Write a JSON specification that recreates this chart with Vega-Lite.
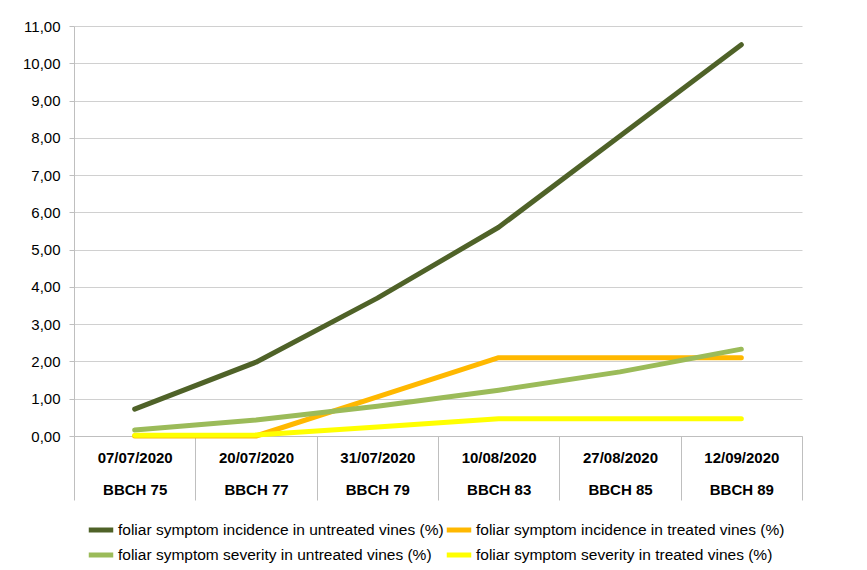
{
  "$schema": "https://vega.github.io/schema/vega-lite/v6.json",
  "autosize": {"type": "none"},
  "width": 728,
  "height": 410,
  "padding": {"left": 74, "top": 26, "right": 65, "bottom": 134},
  "background": "white",
  "data": {
    "values": [
      {"cat": "07/07/2020|BBCH 75", "series": "foliar symptom incidence in untreated vines (%)", "value": 0.72},
      {"cat": "20/07/2020|BBCH 77", "series": "foliar symptom incidence in untreated vines (%)", "value": 1.98},
      {"cat": "31/07/2020|BBCH 79", "series": "foliar symptom incidence in untreated vines (%)", "value": 3.70},
      {"cat": "10/08/2020|BBCH 83", "series": "foliar symptom incidence in untreated vines (%)", "value": 5.60},
      {"cat": "27/08/2020|BBCH 85", "series": "foliar symptom incidence in untreated vines (%)", "value": 8.05},
      {"cat": "12/09/2020|BBCH 89", "series": "foliar symptom incidence in untreated vines (%)", "value": 10.50},
      {"cat": "07/07/2020|BBCH 75", "series": "foliar symptom incidence in treated vines (%)", "value": 0.0},
      {"cat": "20/07/2020|BBCH 77", "series": "foliar symptom incidence in treated vines (%)", "value": 0.0},
      {"cat": "31/07/2020|BBCH 79", "series": "foliar symptom incidence in treated vines (%)", "value": 1.05},
      {"cat": "10/08/2020|BBCH 83", "series": "foliar symptom incidence in treated vines (%)", "value": 2.10},
      {"cat": "27/08/2020|BBCH 85", "series": "foliar symptom incidence in treated vines (%)", "value": 2.10},
      {"cat": "12/09/2020|BBCH 89", "series": "foliar symptom incidence in treated vines (%)", "value": 2.10},
      {"cat": "07/07/2020|BBCH 75", "series": "foliar symptom severity in untreated vines (%)", "value": 0.16},
      {"cat": "20/07/2020|BBCH 77", "series": "foliar symptom severity in untreated vines (%)", "value": 0.43},
      {"cat": "31/07/2020|BBCH 79", "series": "foliar symptom severity in untreated vines (%)", "value": 0.80},
      {"cat": "10/08/2020|BBCH 83", "series": "foliar symptom severity in untreated vines (%)", "value": 1.23},
      {"cat": "27/08/2020|BBCH 85", "series": "foliar symptom severity in untreated vines (%)", "value": 1.72},
      {"cat": "12/09/2020|BBCH 89", "series": "foliar symptom severity in untreated vines (%)", "value": 2.33},
      {"cat": "07/07/2020|BBCH 75", "series": "foliar symptom severity in treated vines (%)", "value": 0.02},
      {"cat": "20/07/2020|BBCH 77", "series": "foliar symptom severity in treated vines (%)", "value": 0.03},
      {"cat": "31/07/2020|BBCH 79", "series": "foliar symptom severity in treated vines (%)", "value": 0.24},
      {"cat": "10/08/2020|BBCH 83", "series": "foliar symptom severity in treated vines (%)", "value": 0.46},
      {"cat": "27/08/2020|BBCH 85", "series": "foliar symptom severity in treated vines (%)", "value": 0.46},
      {"cat": "12/09/2020|BBCH 89", "series": "foliar symptom severity in treated vines (%)", "value": 0.46}
    ]
  },
  "mark": {"type": "line", "strokeWidth": 5, "strokeCap": "round", "strokeJoin": "round"},
  "encoding": {
    "x": {
      "field": "cat",
      "type": "ordinal",
      "sort": null,
      "scale": {"paddingInner": 0, "paddingOuter": 0},
      "axis": {
        "title": null,
        "labelAngle": 0,
        "labelExpr": "split(datum.label, '|')",
        "labelLineHeight": 32,
        "labelBaseline": "top",
        "labelPadding": -50,
        "labelFont": "Liberation Sans",
        "labelFontSize": 15,
        "labelFontWeight": "bold",
        "labelColor": "#000000",
        "tickBand": "extent",
        "tickSize": 64,
        "tickColor": "#bfbfbf",
        "domainColor": "#bfbfbf",
        "grid": false
      }
    },
    "y": {
      "field": "value",
      "type": "quantitative",
      "scale": {"domain": [0, 11], "nice": false},
      "axis": {
        "title": null,
        "values": [0, 1, 2, 3, 4, 5, 6, 7, 8, 9, 10, 11],
        "labelExpr": "replace(format(datum.value, '.2f'), '.', ',')",
        "labelFont": "Liberation Sans",
        "labelFontSize": 15,
        "labelColor": "#000000",
        "labelPadding": 9,
        "tickSize": 5,
        "tickColor": "#bfbfbf",
        "domainColor": "#bfbfbf",
        "gridColor": "#d0d0d0"
      }
    },
    "color": {
      "field": "series",
      "type": "nominal",
      "scale": {
        "domain": [
          "foliar symptom incidence in untreated vines (%)",
          "foliar symptom incidence in treated vines (%)",
          "foliar symptom severity in untreated vines (%)",
          "foliar symptom severity in treated vines (%)"
        ],
        "range": ["#4f6228", "#ffb800", "#9bbb59", "#ffff00"]
      },
      "legend": {
        "title": null,
        "orient": "none",
        "legendX": 12,
        "legendY": 489,
        "direction": "horizontal",
        "columns": 2,
        "columnPadding": -12,
        "rowPadding": 0,
        "symbolType": "stroke",
        "symbolStrokeWidth": 5,
        "symbolSize": 600,
        "labelFont": "Liberation Sans",
        "labelFontSize": 15.5,
        "labelColor": "#000000",
        "labelOffset": 2,
        "labelLimit": 400
      }
    }
  },
  "config": {"view": {"stroke": null}}
}
